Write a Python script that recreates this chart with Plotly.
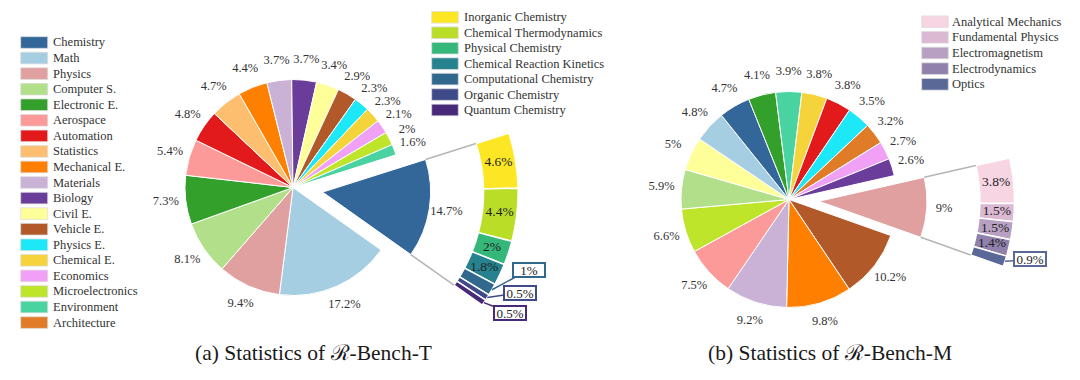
import math
import plotly.graph_objects as go

# ---------------- data ----------------
legend_categories = ["Chemistry", "Math", "Physics", "Computer S.", "Electronic E.", "Aerospace",
                     "Automation", "Statistics", "Mechanical E.", "Materials", "Biology", "Civil E.",
                     "Vehicle E.", "Physics E.", "Chemical E.", "Economics", "Microelectronics",
                     "Environment", "Architecture"]

t_categories = ["Chemistry", "Math", "Physics", "Computer S.", "Electronic E.", "Aerospace",
                "Automation", "Statistics", "Mechanical E.", "Materials", "Biology", "Civil E.",
                "Vehicle E.", "Physics E.", "Chemical E.", "Economics", "Microelectronics", "Environment"]
t_values = [14.7, 17.2, 9.4, 8.1, 7.3, 5.4, 4.8, 4.7, 4.4, 3.7, 3.7, 3.4, 2.9, 2.3, 2.3, 2.1, 2.0, 1.6]

chem_sub_categories = ["Inorganic Chemistry", "Chemical Thermodynamics", "Physical Chemistry",
                       "Chemical Reaction Kinetics", "Computational Chemistry", "Organic Chemistry",
                       "Quantum Chemistry"]
chem_sub_values = [4.6, 4.4, 2.0, 1.8, 1.0, 0.5, 0.5]

m_categories = ["Physics", "Vehicle E.", "Mechanical E.", "Materials", "Aerospace", "Microelectronics",
                "Computer S.", "Civil E.", "Math", "Chemistry", "Electronic E.", "Environment",
                "Chemical E.", "Automation", "Physics E.", "Architecture", "Economics", "Biology"]
m_values = [9.0, 10.2, 9.8, 9.2, 7.5, 6.6, 5.9, 5.0, 4.8, 4.7, 4.1, 3.9, 3.8, 3.8, 3.5, 3.2, 2.7, 2.6]

phys_sub_categories = ["Analytical Mechanics", "Fundamental Physics", "Electromagnetism",
                       "Electrodynamics", "Optics"]
phys_sub_values = [3.8, 1.5, 1.5, 1.4, 0.9]

titles = ["(a) Statistics of \u211b-Bench-T", "(b) Statistics of \u211b-Bench-M"]

# ---------------- style ----------------
COLORS = {
    "Chemistry": "#33679a", "Math": "#a6cee3", "Physics": "#e0a0a0", "Computer S.": "#b2df8a",
    "Electronic E.": "#33a02c", "Aerospace": "#fb9a99", "Automation": "#e31a1c",
    "Statistics": "#fdbf6f", "Mechanical E.": "#ff7f00", "Materials": "#cab2d6",
    "Biology": "#6a3d9a", "Civil E.": "#ffff99", "Vehicle E.": "#b15928",
    "Physics E.": "#1ce8f7", "Chemical E.": "#f5d33a", "Economics": "#f0a1f5",
    "Microelectronics": "#bfe52b", "Environment": "#48d3a0", "Architecture": "#e07b28",
}
chem_sub_colors = ["#fde725", "#bade28", "#35b779", "#26828e", "#31688e", "#3e4a89", "#482878"]
phys_sub_colors = ["#f7d5e3", "#dbb9d3", "#b8a0c3", "#8f81ab", "#5a6898"]

SERIF = "Liberation Serif"
W, H = 1080, 380
R_PX = 108          # pie radius in px
PULL_PX = 30        # explode distance in px
RING_IN, RING_OUT = 1.49, 1.81
LABEL_R = 1.185
EXP_LABEL_R = 1.16
MAIN_RMAX = 1.3
EXP_RMAX = 1.9
BOX_THRESHOLD = 1.0

panels = [
    dict(cats=t_categories, vals=t_values, sub_cats=chem_sub_categories, sub_vals=chem_sub_values,
         sub_cols=chem_sub_colors, center=(293, 187.5), start=17.6,
         box_offsets=[(37, -20), (33, -5), (26, 10)],
         title_pos=(313, 353)),
    dict(cats=m_categories, vals=m_values, sub_cats=phys_sub_categories, sub_vals=phys_sub_values,
         sub_cols=phys_sub_colors, center=(789, 199.5), start=12.8,
         box_offsets=[(25, -2)],
         title_pos=(830, 353)),
]

legends = [
    dict(items=legend_categories, colors=[COLORS[c] for c in legend_categories],
         x0=20.7, x1=47.7, y0=42.5, dy=15.56, tx=50.5),
    dict(items=chem_sub_categories, colors=chem_sub_colors,
         x0=431.7, x1=458.3, y0=17.3, dy=15.45, tx=462.0),
    dict(items=phys_sub_categories, colors=phys_sub_colors,
         x0=921.7, x1=948.3, y0=21.7, dy=15.65, tx=950.5),
]


# ---------------- helpers ----------------
def px_x(x):
    return x / W


def px_y(y):
    return 1 - y / H


def sector_bbox(s0, s1):
    arc = s1 - s0
    a0 = s0 % 360
    a1 = a0 + arc
    ax0, ay0 = math.cos(math.radians(a0)), math.sin(math.radians(a0))
    ax1, ay1 = math.cos(math.radians(a1)), math.sin(math.radians(a1))
    if (a0 <= 90 and a1 >= 90) or (a0 > 90 and a1 >= 450):
        y1 = 1
    elif ay0 <= 0 and ay1 <= 0:
        y1 = 0
    else:
        y1 = max(ay0, ay1)
    if (a0 <= 180 and a1 >= 180) or (a0 > 180 and a1 >= 540):
        x0 = -1
    elif ax0 >= 0 and ax1 >= 0:
        x0 = 0
    else:
        x0 = min(ax0, ax1)
    if (a0 <= 270 and a1 >= 270) or (a0 > 270 and a1 >= 630):
        y0 = -1
    elif ay0 >= 0 and ay1 >= 0:
        y0 = 0
    else:
        y0 = min(ay0, ay1)
    if a1 >= 360:
        x1 = 1
    elif ax0 <= 0 and ax1 <= 0:
        x1 = 0
    else:
        x1 = max(ax0, ax1)
    return x0, y0, x1, y1


def polar_layout(cx, cy, rmax, sector):
    rpx = rmax * R_PX
    x0, y0, x1, y1 = sector_bbox(*sector)
    left, right = cx + rpx * x0, cx + rpx * x1
    top, bottom = cy - rpx * y1, cy - rpx * y0
    return dict(
        domain=dict(x=[left / W, right / W], y=[1 - bottom / H, 1 - top / H]),
        sector=list(sector), bgcolor="rgba(0,0,0,0)", hole=0, bargap=0,
        radialaxis=dict(range=[0, rmax], visible=False),
        angularaxis=dict(visible=False, rotation=0, direction="counterclockwise",
                         thetaunit="degrees"),
    )


def slice_angles(values, start, span=360.0):
    k = span / sum(values)
    centers, widths, acc = [], [], 0.0
    for v in values:
        w = v * k
        centers.append(start - acc - w / 2)
        widths.append(w)
        acc += w
    return centers, widths


def pct(v):
    return f"{v:g}%"


fig = go.Figure()
layout_polars = {}
annotations = []
shapes = []
pid = 0

for pi, p in enumerate(panels):
    cx, cy = p["center"]
    centers, widths = slice_angles(p["vals"], p["start"])
    cols = [COLORS[c] for c in p["cats"]]
    # main pie (all but the exploded first slice)
    pid += 1
    name_main = "polar" if pid == 1 else f"polar{pid}"
    layout_polars[name_main] = polar_layout(cx, cy, MAIN_RMAX, (0, 360))
    fig.add_trace(go.Barpolar(
        r=[1] * (len(p["vals"]) - 1), theta=centers[1:], width=widths[1:],
        marker=dict(color=cols[1:], line=dict(color="white", width=1)),
        subplot=name_main, showlegend=False, hoverinfo="skip"))
    fig.add_trace(go.Scatterpolar(
        r=[LABEL_R] * (len(p["vals"]) - 1), theta=centers[1:], mode="text",
        text=[pct(v) for v in p["vals"][1:]],
        textfont=dict(family=SERIF, size=12.5, color="#333333"),
        subplot=name_main, showlegend=False, hoverinfo="skip", cliponaxis=False))

    # exploded slice + ring
    mid = centers[0]
    ex = cx + PULL_PX * math.cos(math.radians(mid))
    ey = cy - PULL_PX * math.sin(math.radians(mid))
    s_top = p["start"]
    s_bot = p["start"] - widths[0]
    pid += 1
    name_exp = f"polar{pid}"
    layout_polars[name_exp] = polar_layout(ex, ey, EXP_RMAX, (s_bot - 3, s_top + 3))
    fig.add_trace(go.Barpolar(
        r=[1], theta=[mid], width=[widths[0]],
        marker=dict(color=[cols[0]], line=dict(color="white", width=1)),
        subplot=name_exp, showlegend=False, hoverinfo="skip"))
    fig.add_trace(go.Scatterpolar(
        r=[EXP_LABEL_R], theta=[mid], mode="text", text=[pct(p["vals"][0])],
        textfont=dict(family=SERIF, size=12.5, color="#333333"),
        subplot=name_exp, showlegend=False, hoverinfo="skip", cliponaxis=False))
    # connectors
    fig.add_trace(go.Scatterpolar(
        r=[1, RING_IN, None, 1, RING_IN], theta=[s_top, s_top, None, s_bot, s_bot],
        mode="lines", line=dict(color="#b5b5b5", width=1.5),
        subplot=name_exp, showlegend=False, hoverinfo="skip", cliponaxis=False))
    # ring
    sc, sw = slice_angles(p["sub_vals"], s_top, widths[0])
    fig.add_trace(go.Barpolar(
        r=[RING_OUT - RING_IN] * len(sc), base=RING_IN, theta=sc, width=sw,
        marker=dict(color=p["sub_cols"], line=dict(color="white", width=1.5)),
        subplot=name_exp, showlegend=False, hoverinfo="skip"))
    inside = [i for i, v in enumerate(p["sub_vals"]) if v > BOX_THRESHOLD]
    fig.add_trace(go.Scatterpolar(
        r=[(RING_IN + RING_OUT) / 2] * len(inside), theta=[sc[i] for i in inside],
        mode="text", text=[pct(p["sub_vals"][i]) for i in inside],
        textfont=dict(family=SERIF, size=13.5, color="#222222"),
        subplot=name_exp, showlegend=False, hoverinfo="skip", cliponaxis=False))
    boxed = [i for i, v in enumerate(p["sub_vals"]) if v <= BOX_THRESHOLD]
    for (i, (dx, dy)) in zip(boxed, p["box_offsets"]):
        tx = ex + RING_OUT * R_PX * math.cos(math.radians(sc[i]))
        ty = ey - RING_OUT * R_PX * math.sin(math.radians(sc[i]))
        col = p["sub_cols"][i]
        annotations.append(dict(
            x=px_x(tx), y=px_y(ty), xref="paper", yref="paper", text=pct(p["sub_vals"][i]),
            showarrow=True, arrowhead=0, arrowwidth=1.5, arrowcolor=col, standoff=0,
            ax=dx, ay=dy, axref="pixel", ayref="pixel",
            bordercolor=col, borderwidth=2, borderpad=0, bgcolor="white",
            width=30, height=12, font=dict(family=SERIF, size=13, color="#222222")))
    # title
    annotations.append(dict(
        x=px_x(p["title_pos"][0]), y=px_y(p["title_pos"][1]), xref="paper", yref="paper",
        text=titles[pi], showarrow=False, xanchor="center", yanchor="middle",
        font=dict(family=SERIF, size=21.5, color="#1a1a1a")))

# legends
for lg in legends:
    for i, (name, col) in enumerate(zip(lg["items"], lg["colors"])):
        yc = lg["y0"] + i * lg["dy"]
        shapes.append(dict(type="rect", xref="paper", yref="paper",
                           x0=px_x(lg["x0"]), x1=px_x(lg["x1"]),
                           y0=px_y(yc + 5.8), y1=px_y(yc - 5.8),
                           fillcolor=col, line=dict(color="rgba(220,220,220,0.9)", width=0.8)))
        annotations.append(dict(
            x=px_x(lg["tx"]), y=px_y(yc), xref="paper", yref="paper", text=name,
            showarrow=False, xanchor="left", yanchor="middle",
            font=dict(family=SERIF, size=12.5, color="#333333")))

fig.update_layout(
    width=W, height=H, margin=dict(l=0, r=0, t=0, b=0),
    paper_bgcolor="white", plot_bgcolor="white", showlegend=False,
    font=dict(family=SERIF),
    annotations=annotations, shapes=shapes, **layout_polars)

fig.write_html("out.html", config={"displayModeBar": False},
               post_script="document.body.style.margin='0px';")
